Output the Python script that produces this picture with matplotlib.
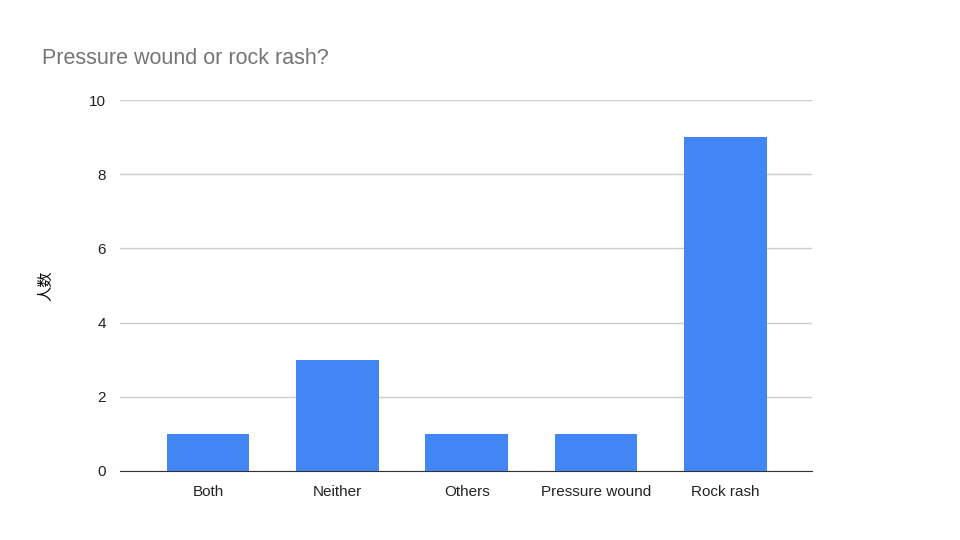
import matplotlib
matplotlib.use("Agg")
import matplotlib.pyplot as plt

categories = ["Both", "Neither", "Others", "Pressure wound", "Rock rash"]
values = [1, 3, 1, 1, 9]
yticks = [0, 2, 4, 6, 8, 10]

plt.rcParams['font.family'] = ['Liberation Sans', 'Noto Sans CJK SC', 'DejaVu Sans']
fig = plt.figure(figsize=(9.6, 5.4), dpi=100)
ax = fig.add_axes([120/960, 1-471/540, 692/960, 371/540])
ax.bar(range(len(categories)), values, width=0.64, color="#4285F4", zorder=3)
ax.set_xlim(-0.68, 4.67)
ax.set_ylim(0, 10)
ax.set_yticks(yticks)
ax.set_xticks(range(len(categories)))
ax.set_xticklabels(categories)
ax.grid(axis='y', color='#cccccc', linewidth=1, zorder=0)
for s in ['top', 'right', 'left']:
    ax.spines[s].set_visible(False)
ax.spines['bottom'].set_color('#333333')
ax.tick_params(length=0, labelsize=11, colors='#222222')
ax.tick_params(axis='x', pad=10)
ax.tick_params(axis='y', pad=10)
ax.set_ylabel("人数", family=['Noto Sans CJK SC', 'DejaVu Sans'], fontsize=11, labelpad=25)
fig.text(42/960, 1-58/540, "Pressure wound or rock rash?", fontsize=15.5, color='#757575', va='center')
fig.savefig("out.png", dpi=100)
